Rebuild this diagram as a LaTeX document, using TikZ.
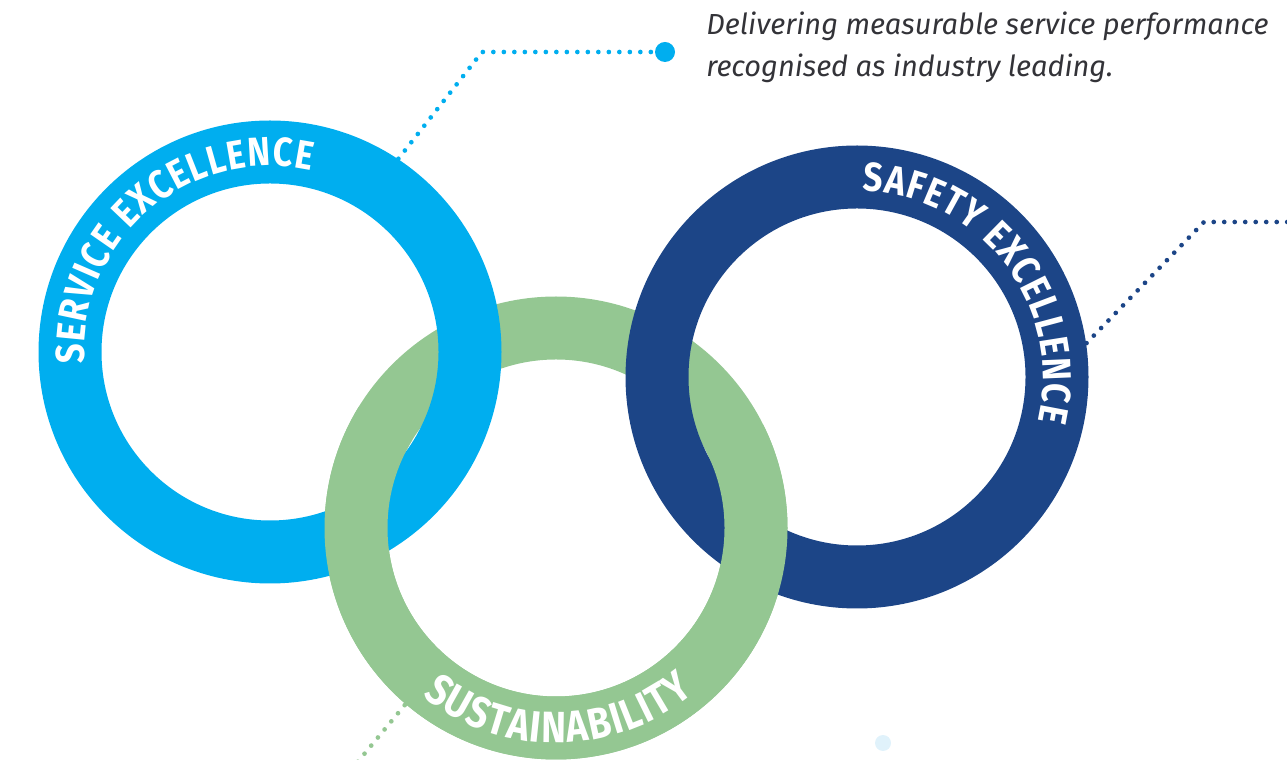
\documentclass[tikz,border=0pt]{standalone}
\usepackage{fontspec}
\newfontfamily\ringfont{Fira Sans}[FakeStretch=0.85]
\newfontfamily\descfont{Fira Sans}
\usetikzlibrary{calc,decorations.text}
\definecolor{svcblue}{RGB}{0,174,239}
\definecolor{susgreen}{RGB}{148,199,146}
\definecolor{safnavy}{RGB}{28,69,135}
\definecolor{desctext}{RGB}{51,51,56}
\definecolor{paleblue}{RGB}{224,242,251}
\def\ringlabel[#1](#2)(#3:#4:#5)#6{\path[decorate,decoration={text along path,text align=center,text color=white,text={|\ringfont\bfseries#1|#6}}] ($(#2)+(#3:#5)$) arc[start angle=#3,end angle=#4,radius=#5];}

\begin{document}
\begin{tikzpicture}[x=0.02cm,y=0.02cm,
  ring/.style={line width=1.26cm},
  leader/.style={line width=0.094cm,dash pattern=on 0pt off 0.21cm,line cap=round}]
	%%%%% START %%%%%
	
	\useasboundingbox (0,0) rectangle (1287,760);
	\clip (0,0) rectangle (1287,760);
	
	\coordinate (svc) at (270,408);
	\coordinate (sus) at (556,232);
	\coordinate (saf) at (857,383);
	
	\draw[ring,susgreen] (sus) circle[radius=200];
	\draw[ring,svcblue] (svc) circle[radius=200];
	\draw[ring,safnavy] (saf) circle[radius=200];
	
	% green goes over at the two lower crossings
	\begin{scope}
		\clip (svc) -- (sus) -- (saf) -- (857,-20) -- (270,-20) -- cycle;
		\draw[ring,susgreen] (sus) circle[radius=200];
	\end{scope}
	
	\ringlabel[\fontsize{23}{23}\selectfont\kern0.7pt](svc)(205.5:55.5:186){SERVICE EXCELLENCE}
	\ringlabel[\fontsize{23}{23}\selectfont\kern0.7pt](saf)(112.5:-37.5:186){SAFETY EXCELLENCE}
	\ringlabel[\fontsize{25}{25}\selectfont\kern0.9pt](sus)(195.5:345.5:215){SUSTAINABILITY}
	
	\coordinate (svcedge) at ($(svc)+(56.4:232)$);
	\coordinate (svcbend) at (482,708);
	\node[circle,fill=svcblue,inner sep=0pt,minimum size=0.4cm] (svcdot) at (665,708) {};
	\draw[leader,svcblue] (svcedge) -- (svcbend) -- (svcdot);
	
	\coordinate (safedge) at ($(saf)+(8.4:232)$);
	\coordinate (safbend) at (1204,538);
	\coordinate (safend) at (1300,538);
	\draw[leader,safnavy] (safedge) -- (safbend) -- (safend);
	
	\coordinate (susedge) at ($(sus)+(229.5:233)$);
	\coordinate (susend) at (351,-10);
	\draw[leader,susgreen] (susedge) -- (susend);
	
	\node[anchor=base west,inner sep=0pt,text=desctext,font=\descfont\itshape\fontsize{16.5}{16.5}\selectfont] (desca) at (706,725) {Delivering measurable service performance};
	\node[anchor=base west,inner sep=0pt,text=desctext,font=\descfont\itshape\fontsize{16.5}{16.5}\selectfont] (descb) at (706,683) {recognised as industry leading.};
	
	\node[circle,fill=paleblue,inner sep=0pt,minimum size=0.32cm] (pale) at (883,17) {};
	
	%%%%% END %%%%%
\end{tikzpicture}
\end{document}
